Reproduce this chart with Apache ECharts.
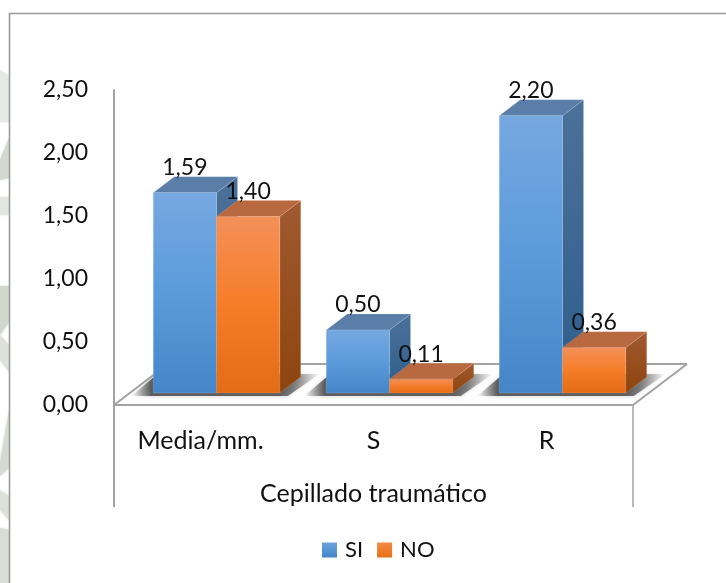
<!DOCTYPE html>
<html>
<head>
<meta charset="utf-8">
<script src="https://cdn.jsdelivr.net/npm/echarts@6/dist/echarts.min.js"></script>
<style>
  html, body { margin: 0; padding: 0; background: #fff; }
  #chart { width: 726px; height: 583px; }
</style>
</head>
<body>
<div id="chart"></div>
<script>
// Cepillado traumático: SI / NO values per measure
const categories = ['Media/mm.', 'S', 'R'];
const valuesSi = [1.59, 0.50, 2.20];
const valuesNo = [1.40, 0.11, 0.36];
const seriesNames = ['SI', 'NO'];
const axisTitle = 'Cepillado traumático';

const FONT = 'Lato, Carlito, sans-serif';
const AXIS_GREY = '#a3a3a3';
const fmt = (v) => v.toFixed(2).replace('.', ',');
const grad = (stops) => new echarts.graphic.LinearGradient(0, 0, 0, 1,
  stops.map((c, i) => ({ offset: i / (stops.length - 1), color: c })));

// Oblique projection used for the pseudo-3D columns
const BAR_DEPTH = [21, -16];
const FLOOR_DEPTH = [54, -41];
const FLOOR_SHIFT = [16, -12];
const BAR_RATIO = 0.3655;

const palette = [
  { front: ['#76A8E0', '#5B9BDB', '#4486C8'], side: ['#4C7199', '#2E5D8B'], top: '#5A7EA8', edge: 'rgba(190,215,240,0.5)', legend: ['#6BA3DE', '#4486C8'] },
  { front: ['#F49059', '#F67D28', '#E36C17'], side: ['#A05A30', '#8E440E'], top: '#B8693F', edge: 'rgba(248,195,160,0.5)', legend: ['#F58A45', '#E66F18'] }
];

const poly = (points, style, z2) => ({ type: 'polygon', shape: { points }, style, z2: z2 || 0, silent: true });
const line = (x1, y1, x2, y2, z2) => ({
  type: 'line', shape: { x1, y1, x2, y2 }, silent: true, z2: z2 || 0,
  style: { stroke: AXIS_GREY, lineWidth: 2 }
});

// Floor outline, axis extensions and the soft shadow under each group
function renderFloor(params, api) {
  const cs = params.coordSys;
  const band = api.size([1, 0])[0];
  const base = api.coord([api.value(0), 0]);
  const yb = base[1] + FLOOR_SHIFT[1];
  const w = band * BAR_RATIO;
  const x0 = base[0] + FLOOR_SHIFT[0] - w;
  const x1 = base[0] + FLOOR_SHIFT[0] + w;
  const children = [];
  if (params.dataIndex === 0) {
    const left = cs.x, right = cs.x + cs.width, y0 = cs.y + cs.height;
    children.push(
      line(left, y0, left + FLOOR_DEPTH[0], y0 + FLOOR_DEPTH[1]),
      line(left + FLOOR_DEPTH[0], y0 + FLOOR_DEPTH[1], right + FLOOR_DEPTH[0], y0 + FLOOR_DEPTH[1]),
      line(right + FLOOR_DEPTH[0], y0 + FLOOR_DEPTH[1], right, y0),
      line(left, y0, left, y0 + 102),
      { type: 'line', silent: true, shape: { x1: right, y1: y0, x2: right, y2: y0 + 102 }, style: { stroke: AXIS_GREY, lineWidth: 1.5 } }
    );
  }
  const sx0 = x0 - 22, sx1 = x1 + 40;
  const total = sx1 - sx0;
  const shadeFill = new echarts.graphic.LinearGradient(0, 0, 1, 0, [
    { offset: 0, color: 'rgba(70,70,70,0)' },
    { offset: 20 / total, color: 'rgba(55,55,55,0.75)' },
    { offset: (total - 40) / total, color: 'rgba(55,55,55,0.75)' },
    { offset: (total - 26) / total, color: 'rgba(60,60,60,0.6)' },
    { offset: 1, color: 'rgba(70,70,70,0)' }
  ]);
  children.push(poly(
    [[sx0, yb + 3], [x1 + 8, yb + 3], [sx1, yb - 19], [x0 + 4, yb - 19]],
    { fill: shadeFill, shadowBlur: 4, shadowColor: 'rgba(70,70,70,0.4)' }
  ));
  return { type: 'group', children };
}

// One column: front, side and top faces plus its value label
function renderColumn(seriesIndex) {
  return function (params, api) {
    const p = palette[seriesIndex];
    const band = api.size([1, 0])[0];
    const w = band * BAR_RATIO;
    const idx = api.value(0);
    const value = api.value(1);
    const base = api.coord([idx, 0]);
    const tip = api.coord([idx, value]);
    const x0 = base[0] + FLOOR_SHIFT[0] + (seriesIndex - 1) * w;
    const x1 = x0 + w;
    const yb = base[1] + FLOOR_SHIFT[1];
    const yt = tip[1] + FLOOR_SHIFT[1];
    const [dx, dy] = BAR_DEPTH;
    return {
      type: 'group',
      children: [
        poly([[x1, yb], [x1 + dx, yb + dy], [x1 + dx, yt + dy], [x1, yt]],
          { fill: grad(p.side), stroke: p.edge, lineWidth: 0.4 }),
        poly([[x0, yt], [x0 + dx, yt + dy], [x1 + dx, yt + dy], [x1, yt]],
          { fill: p.top, stroke: p.edge, lineWidth: 0.4 }),
        poly([[x0, yb], [x1, yb], [x1, yt], [x0, yt]],
          { fill: grad(p.front), stroke: p.edge, lineWidth: 0.4 }),
        {
          type: 'text', z2: 20, silent: true,
          style: {
            text: fmt(value), x: (x0 + x1) / 2, y: yt - 25,
            align: 'center', verticalAlign: 'middle',
            fill: '#111', font: '23px ' + FONT
          }
        }
      ]
    };
  };
}

const chart = echarts.init(document.getElementById('chart'), null, { renderer: 'canvas' });

// Faded backdrop strip and the chart frame, which stops at the page edges
const backdrop = [
  [[0, 70], [9, 76], [9, 122], [0, 122], '#e6e8e4'],
  [[0, 160], [9, 138], [9, 178], [0, 180], '#d3d9d0'],
  [[0, 197], [9, 197], [9, 215], [0, 215], '#e3e6e0'],
  [[0, 286], [9, 286], [9, 322], [0, 335], '#d0d7cd'],
  [[0, 335], [9, 345], [9, 372], [0, 360], '#dde1da'],
  [[0, 462], [9, 410], [9, 468], [0, 476], '#d5dbd2'],
  [[0, 490], [9, 496], [9, 520], [0, 510], '#dbe0d8'],
  [[0, 528], [9, 530], [9, 583], [0, 583], '#d8ddd5']
].map((b) => ({
  type: 'polygon', silent: true,
  shape: { points: b.slice(0, 4) },
  style: { fill: b[4], shadowBlur: 3, shadowColor: b[4] }
}));

chart.setOption({
  animation: false,
  backgroundColor: '#ffffff',
  textStyle: { fontFamily: FONT },
  graphic: backdrop.concat([
    { type: 'rect', silent: true, shape: { x: 10, y: 14, width: 716, height: 569 }, style: { fill: '#ffffff' } },
    { type: 'polyline', silent: true, shape: { points: [[9.5, 583], [9.5, 13.5], [726, 13.5]] }, style: { fill: null, stroke: '#9c9c9c', lineWidth: 1.6 } }
  ]),
  grid: { left: 114, top: 90, width: 519, height: 315, containLabel: false },
  legend: {
    data: seriesNames,
    left: 317, top: 534,
    icon: 'rect', itemWidth: 15, itemHeight: 15, itemGap: 14,
    textStyle: { color: '#111', fontSize: 22, fontFamily: FONT, padding: [0, 0, 0, 3] }
  },
  xAxis: {
    type: 'category',
    data: categories,
    axisTick: { show: false },
    axisLine: { lineStyle: { color: AXIS_GREY, width: 2 } },
    axisLabel: { color: '#111', fontSize: 25, fontFamily: FONT, margin: 23 },
    name: axisTitle,
    nameLocation: 'middle',
    nameGap: 76,
    nameTextStyle: { color: '#111', fontSize: 25, fontFamily: FONT }
  },
  yAxis: {
    type: 'value', min: 0, max: 2.5, interval: 0.5,
    splitLine: { show: false },
    axisTick: { show: false },
    axisLine: { show: true, lineStyle: { color: AXIS_GREY, width: 2 } },
    axisLabel: { color: '#111', fontSize: 23, fontFamily: FONT, margin: 26, padding: [4, 0, 0, 0], formatter: fmt }
  },
  series: [
    {
      type: 'custom', name: 'piso', z: 1, silent: true, renderItem: renderFloor,
      data: categories.map((_, i) => [i, 0]), encode: { x: 0, y: 1 }
    },
    {
      type: 'custom', name: seriesNames[0], z: 2, renderItem: renderColumn(0),
      itemStyle: { color: grad(palette[0].legend) },
      data: valuesSi.map((v, i) => [i, v]), encode: { x: 0, y: 1 }
    },
    {
      type: 'custom', name: seriesNames[1], z: 3, renderItem: renderColumn(1),
      itemStyle: { color: grad(palette[1].legend) },
      data: valuesNo.map((v, i) => [i, v]), encode: { x: 0, y: 1 }
    }
  ]
});
</script>
</body>
</html>
